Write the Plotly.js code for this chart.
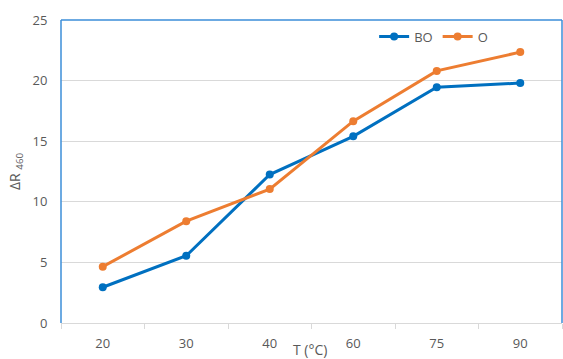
<!DOCTYPE html>
<html>
<head>
<meta charset="utf-8">
<script src="https://cdn.plot.ly/plotly-3.0.1.min.js"></script>
<style>html,body{margin:0;padding:0;background:#fff;}#chart{width:563px;height:359px;}</style>
</head>
<body>
<div id="chart"></div>
<script>
const categories = ["20", "30", "40", "60", "75", "90"];
const seriesBO = [2.95, 5.55, 12.25, 15.4, 19.45, 19.8];
const seriesO = [4.65, 8.4, 11.05, 16.65, 20.8, 22.35];
const yTicks = [0, 5, 10, 15, 20, 25];

const fam = "Open Sans, Liberation Sans, sans-serif";
const grey = "#595959";

const traces = [
  {x: categories, y: seriesBO, name: "BO", type: "scatter", mode: "lines+markers",
   line: {color: "#0070C0", width: 3}, marker: {color: "#0070C0", size: 8}},
  {x: categories, y: seriesO, name: "O", type: "scatter", mode: "lines+markers",
   line: {color: "#ED7D31", width: 3}, marker: {color: "#ED7D31", size: 8}}
];

const layout = {
  width: 563, height: 359,
  margin: {l: 61, r: 1, t: 20, b: 36, pad: 0},
  paper_bgcolor: "#ffffff", plot_bgcolor: "#ffffff",
  font: {family: fam, size: 13, color: grey},
  showlegend: true,
  legend: {orientation: "h", x: 0.625, y: 0.995, xanchor: "left", yanchor: "top",
           font: {family: fam, size: 13, color: grey}, bgcolor: "rgba(0,0,0,0)",
           tracegroupgap: 0},
  xaxis: {
    type: "category", range: [-0.5, 5.5], tickson: "boundaries",
    ticks: "outside", ticklen: 5, tickcolor: "#d9d9d9", tickwidth: 1,
    ticklabelstandoff: 8,
    showgrid: false, showline: true, linecolor: "#d9d9d9", linewidth: 1,
    tickfont: {family: fam, size: 13, color: grey},
    fixedrange: true, zeroline: false
  },
  yaxis: {
    range: [0, 25], tickvals: yTicks, ticktext: yTicks.map(String),
    showgrid: true, gridcolor: "#d9d9d9", gridwidth: 1, zeroline: false,
    showline: false, ticks: "outside", ticklen: 10, tickcolor: "rgba(0,0,0,0)",
    tickfont: {family: fam, size: 13, color: grey},
    title: {text: "ΔR <sub>460</sub>", font: {family: fam, size: 14, color: grey}, standoff: 8},
    fixedrange: true
  },
  annotations: [
    {text: "T (°C)", xref: "paper", yref: "paper", x: 0.497, y: -0.087,
     xanchor: "center", yanchor: "middle", showarrow: false,
     font: {family: fam, size: 14, color: grey}}
  ],
  shapes: [
    {type: "line", xref: "paper", yref: "paper", x0: 0, x1: 1, y0: 1, y1: 1, line: {color: "#3b8ed8", width: 1.5}},
    {type: "line", xref: "paper", yref: "paper", x0: 0, x1: 0, y0: 0, y1: 1, line: {color: "#3b8ed8", width: 1.5}},
    {type: "line", xref: "paper", yref: "paper", x0: 1, x1: 1, y0: 0, y1: 1, line: {color: "#3b8ed8", width: 1.5}}
  ]
};

Plotly.newPlot("chart", traces, layout, {displayModeBar: false, staticPlot: true});
</script>
</body>
</html>
